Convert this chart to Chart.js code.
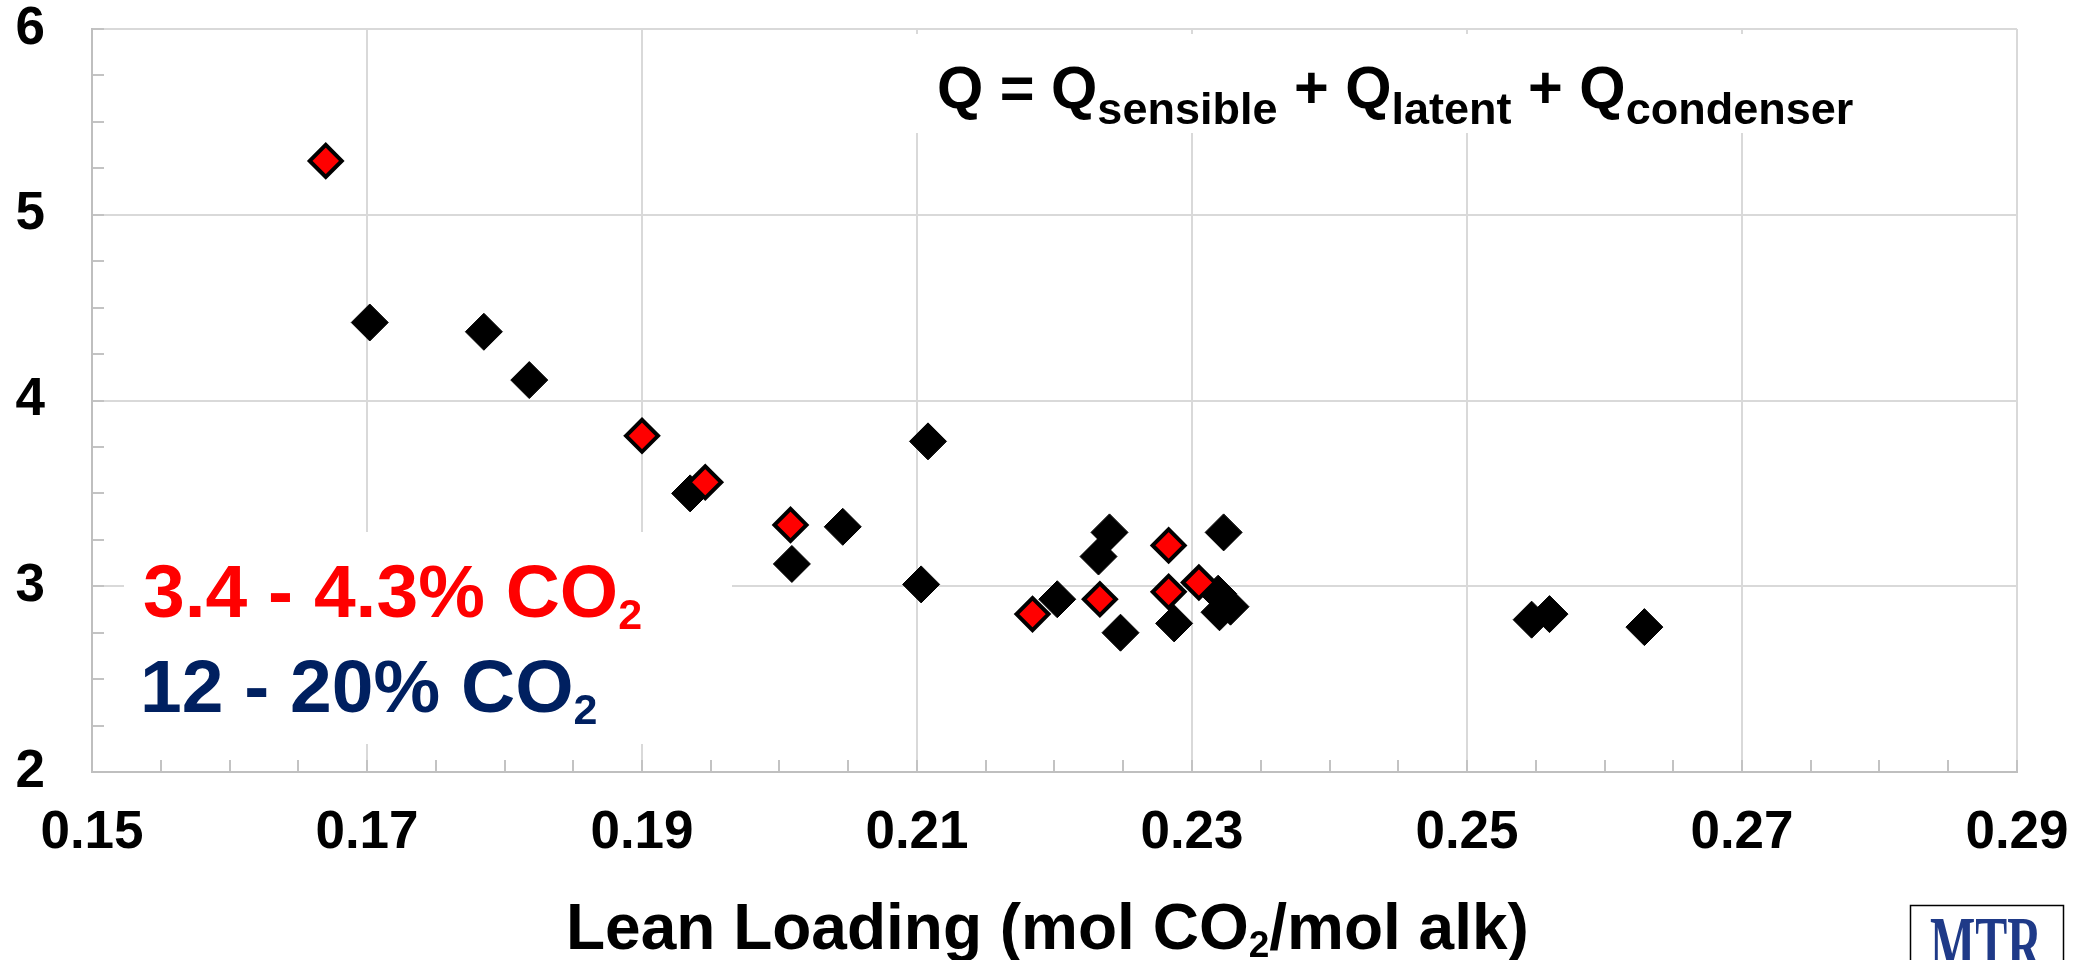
<!DOCTYPE html>
<html>
<head>
<meta charset="utf-8">
<title>Heat duty vs lean loading</title>
<script src="https://cdn.jsdelivr.net/npm/chart.js@4.4.1/dist/chart.umd.min.js"></script>
<style>
  html, body { margin: 0; padding: 0; background: #fff; }
  #wrap { width: 2085px; height: 960px; }
</style>
</head>
<body>
<div id="wrap"><canvas id="chart" width="2085" height="960"></canvas></div>
<script>
// lean loading (mol CO2/mol alk) and heat duty per run, low-CO2 feed
const lowCo2Loading = [0.1670, 0.1900, 0.1946, 0.2008, 0.2184, 0.2233, 0.2283, 0.2283, 0.2305];
const lowCo2Duty    = [5.29, 3.81, 3.56, 3.33, 2.85, 2.93, 3.22, 2.97, 3.02];

// same for the 12 - 20% CO2 runs
const highCo2Loading = [0.1702, 0.1785, 0.1818, 0.1935, 0.2009, 0.2046, 0.2108, 0.2103, 0.2202, 0.2240,
                        0.2232, 0.2248, 0.2287, 0.2323, 0.2319, 0.2320, 0.2328, 0.2547, 0.2560, 0.2629];
const highCo2Duty    = [4.42, 4.37, 4.11, 3.50, 3.12, 3.32, 3.78, 3.01, 2.93, 3.29,
                        3.16, 2.75, 2.80, 3.29, 2.96, 2.86, 2.89, 2.82, 2.85, 2.78];

const xTicks = [0.15, 0.17, 0.19, 0.21, 0.23, 0.25, 0.27, 0.29];
const yTicks = [2, 3, 4, 5, 6];
const xMinorStep = 0.005;
const yMinorStep = 0.25;

// rich text pieces: [text, isSubscript]
const equationParts = [['Q = Q', false], ['sensible', true], [' + Q', false], ['latent', true], [' + Q', false], ['condenser', true]];
const lowLegendParts = [['3.4 - 4.3% CO', false], ['2', true]];
const highLegendParts = [['12 - 20% CO', false], ['2', true]];
const xTitleParts = [['Lean Loading (mol CO', false], ['2', true], ['/mol alk)', false]];

const FAMILY = '"Liberation Sans", Arial, sans-serif';
const tickFont = { family: FAMILY, size: 53, weight: 'bold' };

const isMajor = (v, list) => list.some(t => Math.abs(t - v) < 1e-6);
const toXY = (xs, ys) => xs.map((x, i) => ({ x, y: ys[i] }));

function drawRich(c, parts, x, y, size, subSize, subDrop, color) {
  c.fillStyle = color;
  c.textBaseline = 'alphabetic';
  c.textAlign = 'left';
  for (const [text, sub] of parts) {
    c.font = 'bold ' + (sub ? subSize : size) + 'px ' + FAMILY;
    c.fillText(text, x, sub ? y + subDrop : y);
    x += c.measureText(text).width;
  }
}

const notes = {
  id: 'notes',
  beforeDatasetsDraw(chart) {
    const c = chart.ctx;
    c.save();
    // white boxes behind the text blocks
    c.fillStyle = '#fff';
    c.fillRect(900, 34, 980, 99);
    c.fillRect(124, 532, 608, 212);

    drawRich(c, equationParts, 937, 108, 59.5, 45, 16, '#000');
    drawRich(c, lowLegendParts, 143, 617, 75, 43, 12, '#ff0000');
    drawRich(c, highLegendParts, 140, 712, 75, 43, 12, '#002060');
    drawRich(c, xTitleParts, 566, 949, 64, 37, 8, '#000');

    // logo
    c.strokeStyle = '#000';
    c.lineWidth = 1.5;
    c.strokeRect(1910.5, 905.5, 153, 70);
    c.translate(1986, 972);
    c.scale(0.6, 1);
    c.font = 'bold 80px "Liberation Serif", "DejaVu Serif", serif';
    c.textAlign = 'center';
    c.textBaseline = 'alphabetic';
    c.fillStyle = '#1f3a88';
    c.fillText('MTR', 0, 0);
    c.restore();
  }
};

const gridOpts = list => ({
  color: ctx => isMajor(ctx.tick.value, list) ? '#d9d9d9' : 'rgba(0,0,0,0)',
  lineWidth: 2,
  tickLength: -12,
  tickColor: '#c3c3c3',
  tickWidth: 2
});

new Chart(document.getElementById('chart'), {
  type: 'scatter',
  data: {
    datasets: [
      {
        label: '3.4 - 4.3% CO2',
        data: toXY(lowCo2Loading, lowCo2Duty),
        pointStyle: 'rectRot',
        pointRadius: 16,
        pointBackgroundColor: '#ff0000',
        pointBorderColor: '#000',
        pointBorderWidth: 4
      },
      {
        label: '12 - 20% CO2',
        data: toXY(highCo2Loading, highCo2Duty),
        pointStyle: 'rectRot',
        pointRadius: 18.5,
        pointBackgroundColor: '#000',
        pointBorderColor: '#000',
        pointBorderWidth: 1
      }
    ]
  },
  options: {
    responsive: false,
    animation: false,
    events: [],
    layout: { padding: { top: 29, right: 68, bottom: 0, left: 0 } },
    plugins: { legend: { display: false }, tooltip: { enabled: false } },
    scales: {
      x: {
        type: 'linear',
        min: xTicks[0],
        max: xTicks[xTicks.length - 1],
        ticks: {
          stepSize: xMinorStep,
          autoSkip: false,
          maxRotation: 0,
          padding: 42,
          color: '#000',
          font: tickFont,
          callback: v => isMajor(v, xTicks) ? v.toFixed(2) : ''
        },
        grid: gridOpts(xTicks),
        border: { color: '#bfbfbf', width: 2 },
        afterFit: s => { s.height = 188; s.paddingLeft = 0; s.paddingRight = 0; }
      },
      y: {
        type: 'linear',
        min: yTicks[0],
        max: yTicks[yTicks.length - 1],
        ticks: {
          stepSize: yMinorStep,
          autoSkip: false,
          padding: 59,
          color: '#000',
          font: tickFont,
          callback: v => isMajor(v, yTicks) ? String(v) : ''
        },
        grid: gridOpts(yTicks),
        border: { color: '#bfbfbf', width: 2 },
        afterFit: s => { s.width = 92; s.paddingTop = 0; s.paddingBottom = 0; }
      }
    }
  },
  plugins: [notes]
});
</script>
</body>
</html>
